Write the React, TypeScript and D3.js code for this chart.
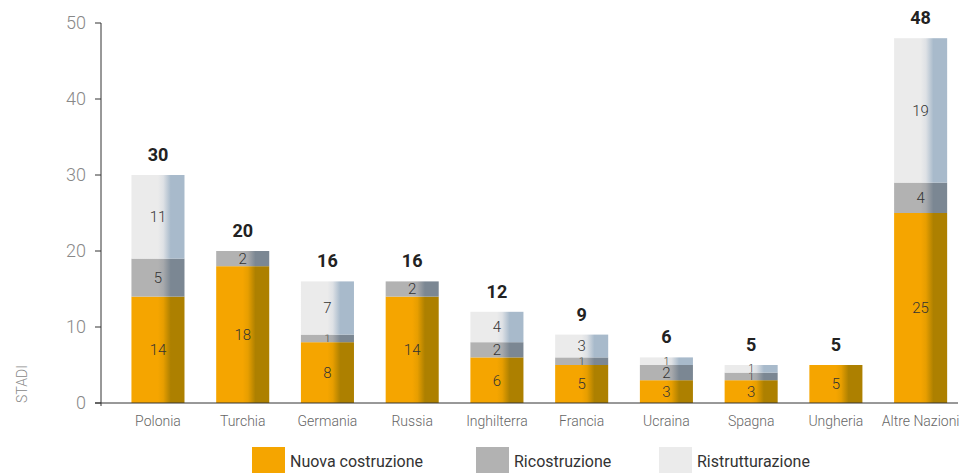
import { useEffect, useRef } from "react"
import * as d3 from "d3"

const categories = ["Polonia", "Turchia", "Germania", "Russia", "Inghilterra", "Francia", "Ucraina", "Spagna", "Ungheria", "Altre Nazioni"]
const nuovaCostruzione = [14, 18, 8, 14, 6, 5, 3, 3, 5, 25]
const ricostruzione = [5, 2, 1, 2, 2, 1, 2, 1, 0, 4]
const ristrutturazione = [11, 0, 7, 0, 4, 3, 1, 1, 0, 19]
const yTicks = [0, 10, 20, 30, 40, 50]
const seriesNames = ["Nuova costruzione", "Ricostruzione", "Ristrutturazione"]

const FONT = "Roboto, 'Open Sans', sans-serif"

export default function App() {
  const svgRef = useRef(null)

  useEffect(() => {
    if (!svgRef.current) return
    const svg = d3.select(svgRef.current)
    svg.selectAll("*").remove()

    const width = 968
    const height = 473

    const x = d3.scaleBand().domain(categories).range([115.6, 963]).paddingInner(0.374).paddingOuter(0.187)
    const y = d3.scaleLinear().domain([0, 50]).range([403, 23])

    // gradienti delle barre
    const grads = [
      { id: "g-nuova", base: "#f5a500", dark: "#ad8000" },
      { id: "g-rico", base: "#b2b2b2", dark: "#7b8793" },
      { id: "g-ristr", base: "#ebebeb", dark: "#a8bacb" },
    ]
    const defs = svg.append("defs")
    grads.forEach((g) => {
      const lg = defs.append("linearGradient").attr("id", g.id).attr("x1", 0).attr("x2", 1).attr("y1", 0).attr("y2", 0)
      lg.append("stop").attr("offset", 0).attr("stop-color", g.base)
      lg.append("stop").attr("offset", 0.5).attr("stop-color", g.base)
      lg.append("stop").attr("offset", 0.6).attr("stop-color", d3.interpolateRgb(g.base, g.dark)(0.2))
      lg.append("stop").attr("offset", 0.74).attr("stop-color", g.dark)
      lg.append("stop").attr("offset", 1).attr("stop-color", g.dark)
    })

    const rows = categories.map((c, i) => ({
      category: c,
      values: [nuovaCostruzione[i], ricostruzione[i], ristrutturazione[i]],
    }))

    // barre impilate
    rows.forEach((r) => {
      let acc = 0
      r.values.forEach((v, k) => {
        if (v <= 0) return
        const y0 = acc
        const y1 = acc + v
        acc = y1
        svg.append("rect")
          .attr("x", x(r.category))
          .attr("y", y(y1))
          .attr("width", x.bandwidth())
          .attr("height", y(y0) - y(y1))
          .attr("fill", `url(#${grads[k].id})`)
        svg.append("text")
          .attr("x", x(r.category) + x.bandwidth() / 2)
          .attr("y", (y(y0) + y(y1)) / 2)
          .attr("dy", "0.36em")
          .attr("text-anchor", "middle")
          .attr("font-family", FONT)
          .attr("font-weight", 300)
          .attr("font-size", v === 1 ? "10px" : "15px")
          .attr("fill", "#333")
          .text(v)
      })
      svg.append("text")
        .attr("x", x(r.category) + x.bandwidth() / 2)
        .attr("y", y(acc) - 14)
        .attr("text-anchor", "middle")
        .attr("font-family", FONT)
        .attr("font-weight", 700)
        .attr("font-size", "18px")
        .attr("fill", "#222")
        .text(acc)
    })

    // asse Y
    svg.append("line").attr("x1", 101).attr("x2", 101).attr("y1", y(50)).attr("y2", y(0) + 3).attr("stroke", "#333")
    yTicks.forEach((t) => {
      svg.append("line").attr("x1", 95).attr("x2", 101).attr("y1", y(t)).attr("y2", y(t)).attr("stroke", "#333")
      svg.append("text")
        .attr("x", 86)
        .attr("y", y(t))
        .attr("dy", "0.36em")
        .attr("text-anchor", "end")
        .attr("font-family", FONT)
        .attr("font-weight", 300)
        .attr("font-size", "18px")
        .attr("fill", "#888")
        .text(t)
    })

    // asse X
    svg.append("line").attr("x1", 95).attr("x2", 958).attr("y1", y(0)).attr("y2", y(0)).attr("stroke", "#333")
    categories.forEach((c) => {
      svg.append("text")
        .attr("x", x(c) + x.bandwidth() / 2)
        .attr("y", 426)
        .attr("text-anchor", "middle")
        .attr("font-family", FONT)
        .attr("font-weight", 300)
        .attr("font-size", "14px")
        .attr("fill", "#666")
        .text(c)
    })

    // etichetta asse Y
    svg.append("text")
      .attr("transform", `translate(27,384) rotate(-90)`)
      .attr("text-anchor", "middle")
      .attr("font-family", FONT)
      .attr("font-weight", 300)
      .attr("font-size", "14px")
      .attr("fill", "#888")
      .text("STADI")

    // legenda
    const legendColors = ["#f5a500", "#b2b2b2", "#ebebeb"]
    const legendX = [252, 476, 659]
    seriesNames.forEach((s, i) => {
      const lg = svg.append("g").attr("transform", `translate(${legendX[i]},447)`)
      lg.append("rect").attr("width", 33).attr("height", 26).attr("fill", legendColors[i])
      lg.append("text")
        .attr("x", 38)
        .attr("y", 20)
        .attr("font-family", FONT)
        .attr("font-weight", 400)
        .attr("font-size", "16px")
        .attr("fill", "#333")
        .text(s)
    })

    svg.attr("width", width).attr("height", height).attr("viewBox", [0, 0, width, height])
  }, [])

  return (
    <div style={{ position: "absolute", left: 0, top: 0 }}>
      <svg ref={svgRef} style={{ display: "block" }}></svg>
    </div>
  )
}
